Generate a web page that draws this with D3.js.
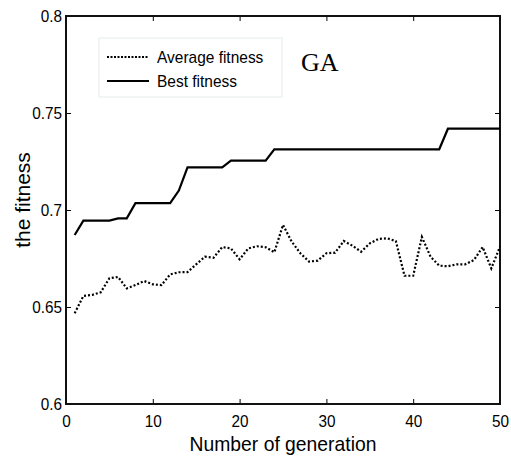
<!DOCTYPE html>
<html>
<head>
<meta charset="utf-8">
<script src="https://cdn.jsdelivr.net/npm/d3@7"></script>
<style>
  body { margin: 0; background: #fff; }
  svg text { font-family: "Liberation Sans", Arial, sans-serif; }
</style>
</head>
<body>
<div id="chart"></div>
<script>
// generations 1..50
var generations = d3.range(1, 51);

// best fitness per generation (step-like curve)
var bestFitness = [
  0.6871, 0.6945, 0.6945, 0.6945, 0.6945, 0.6957, 0.6957, 0.7035, 0.7035, 0.7035,
  0.7035, 0.7035, 0.7100, 0.7220, 0.7220, 0.7220, 0.7220, 0.7220, 0.7254, 0.7254,
  0.7254, 0.7254, 0.7254, 0.7313, 0.7313, 0.7313, 0.7313, 0.7313, 0.7313, 0.7313,
  0.7313, 0.7313, 0.7313, 0.7313, 0.7313, 0.7313, 0.7313, 0.7313, 0.7313, 0.7313,
  0.7313, 0.7313, 0.7313, 0.7419, 0.7419, 0.7419, 0.7419, 0.7419, 0.7419, 0.7419
];

// average fitness per generation
var avgFitness = [
  0.6468, 0.6557, 0.6562, 0.6576, 0.6648, 0.6655, 0.6596, 0.6613, 0.6634, 0.6617,
  0.6613, 0.6668, 0.6679, 0.6680, 0.6720, 0.6759, 0.6754, 0.6809, 0.6802, 0.6746,
  0.6802, 0.6813, 0.6808, 0.6782, 0.6923, 0.6837, 0.6777, 0.6734, 0.6739, 0.6777,
  0.6780, 0.6840, 0.6816, 0.6785, 0.6828, 0.6851, 0.6854, 0.6840, 0.6661, 0.6661,
  0.6861, 0.6759, 0.6713, 0.6710, 0.6720, 0.6720, 0.6742, 0.6809, 0.6699, 0.6811
];

var xTicks = [0, 10, 20, 30, 40, 50];
var yTicks = [0.6, 0.65, 0.7, 0.75, 0.8];
var legendLabels = ["Average fitness", "Best fitness"];

var W = 511, H = 462;
var plotLeft = 66, plotRight = 500, plotTop = 16, plotBottom = 404;

var svg = d3.select("#chart").append("svg")
  .attr("width", W)
  .attr("height", H);

// the original text looks a bit narrow, so squeeze it horizontally
function squeeze(sel, k) {
  sel.each(function() {
    var w = this.getComputedTextLength();
    d3.select(this)
      .attr("textLength", w * k)
      .attr("lengthAdjust", "spacingAndGlyphs");
  });
}

var x = d3.scaleLinear().domain([0, 50]).range([plotLeft, plotRight]);
var y = d3.scaleLinear().domain([0.6, 0.8]).range([plotBottom, plotTop]);

var tickFmt = function(d) { return String(+d.toFixed(2)); };

// axes with inward ticks on all four sides
var xAxis = svg.append("g")
  .attr("transform", "translate(0," + plotBottom + ")")
  .call(d3.axisBottom(x).tickValues(xTicks).tickSize(-5).tickPadding(11).tickFormat(tickFmt));
var xTop = svg.append("g")
  .attr("transform", "translate(0," + plotTop + ")")
  .call(d3.axisTop(x).tickValues(xTicks).tickSize(-5).tickFormat(""));
var yAxis = svg.append("g")
  .attr("transform", "translate(" + plotLeft + ",0)")
  .call(d3.axisLeft(y).tickValues(yTicks).tickSize(-5).tickPadding(4).tickFormat(tickFmt));
var yRight = svg.append("g")
  .attr("transform", "translate(" + plotRight + ",0)")
  .call(d3.axisRight(y).tickValues(yTicks).tickSize(-5).tickFormat(""));

[xAxis, xTop, yAxis, yRight].forEach(function(g) {
  g.select(".domain").remove();
  g.selectAll(".tick line").attr("stroke", "#000").attr("stroke-width", 1);
  g.selectAll(".tick text")
    .attr("fill", "#000")
    .style("font-size", "17px");
});
squeeze(xAxis.selectAll(".tick text"), 0.9);
squeeze(yAxis.selectAll(".tick text"), 0.9);

// plot frame
svg.append("rect")
  .attr("x", plotLeft)
  .attr("y", plotTop)
  .attr("width", plotRight - plotLeft)
  .attr("height", plotBottom - plotTop)
  .attr("fill", "none")
  .attr("stroke", "#111")
  .attr("stroke-width", 2);

var line = d3.line()
  .x(function(d) { return x(d[0]); })
  .y(function(d) { return y(d[1]); });

svg.append("path")
  .datum(generations.map(function(g, i) { return [g, avgFitness[i]]; }))
  .attr("d", line)
  .attr("fill", "none")
  .attr("stroke", "#000")
  .attr("stroke-width", 2.2)
  .attr("stroke-dasharray", "2,2");

svg.append("path")
  .datum(generations.map(function(g, i) { return [g, bestFitness[i]]; }))
  .attr("d", line)
  .attr("fill", "none")
  .attr("stroke", "#000")
  .attr("stroke-width", 2.2);

// legend
var legend = svg.append("g");
legend.append("rect")
  .attr("x", 99)
  .attr("y", 38)
  .attr("width", 183)
  .attr("height", 59)
  .attr("fill", "#fff")
  .attr("stroke", "#e6ecec")
  .attr("stroke-width", 1);

legendLabels.forEach(function(label, i) {
  var ly = 57 + i * 24;
  legend.append("line")
    .attr("x1", 107)
    .attr("x2", 149)
    .attr("y1", ly)
    .attr("y2", ly)
    .attr("stroke", "#000")
    .attr("stroke-width", 2)
    .attr("stroke-dasharray", i == 0 ? "2,1.5" : null);
  legend.append("text")
    .text(label)
    .attr("class", "legend-text")
    .attr("x", 157)
    .attr("y", ly + 6)
    .style("font-size", "17px");
});
squeeze(legend.selectAll(".legend-text"), 0.91);

svg.append("text")
  .text("GA")
  .attr("x", 301)
  .attr("y", 71)
  .style("font-family", "'Liberation Serif', 'Times New Roman', serif")
  .style("font-size", "26px");

// axis titles
var xTitle = svg.append("text")
  .text("Number of generation")
  .attr("x", (plotLeft + plotRight) / 2)
  .attr("y", 451)
  .attr("text-anchor", "middle")
  .style("font-size", "21px");
squeeze(xTitle, 0.92);

svg.append("text")
  .text("the fitness")
  .attr("transform", "translate(30,200) rotate(-90)")
  .attr("text-anchor", "middle")
  .style("font-size", "21px");
</script>
</body>
</html>
